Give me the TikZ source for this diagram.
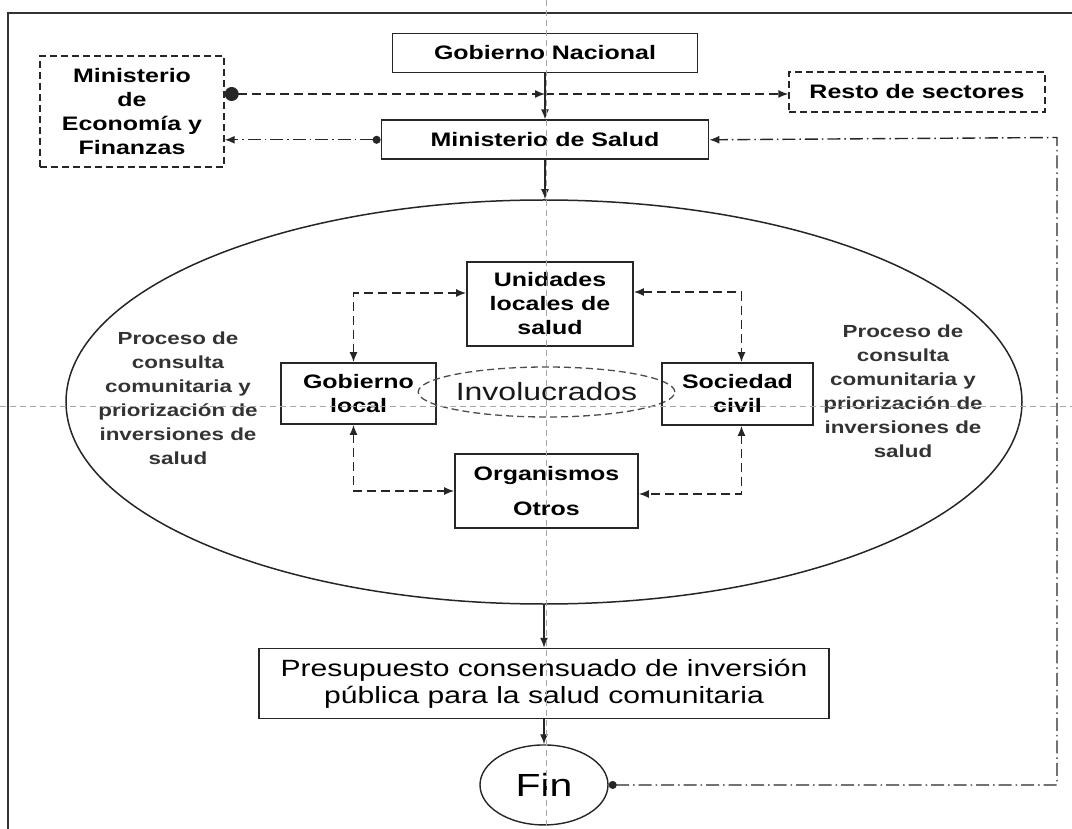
\documentclass[tikz,border=0pt]{standalone}
\usepackage{fontspec}
\setmainfont[FakeStretch=1.28]{Liberation Sans}
\usetikzlibrary{shapes.geometric,arrows.meta,positioning}

\begin{document}
\begin{tikzpicture}[x=1pt, y=-1pt, >={Latex[length=10pt,width=8pt]}]
		\tikzstyle{box}=[rectangle, draw=black!85, line width=1.8pt, align=center, inner sep=0pt, font=\fontsize{19.5}{24}\selectfont\bfseries]
		\tikzstyle{dbox}=[box, line width=1.4pt, dash pattern=on 7pt off 4pt]
		\tikzstyle{note}=[align=center, text=black!80, font=\fontsize{17.5}{24}\selectfont\bfseries]
		\tikzstyle{connect}=[line width=1.4pt, draw=black!85, ->]
		\tikzstyle{dsh}=[connect, dash pattern=on 9pt off 5pt]
		\tikzstyle{dshdot}=[connect, dash pattern=on 13pt off 4pt on 1.5pt off 4pt]
		\tikzstyle{guide}=[black!35, line width=0.8pt, dash pattern=on 6pt off 4pt]
		\useasboundingbox (0,0) rectangle (1072,829);
		\draw[line width=1.8pt, black!80] (1072,13) -- (8,13) -- (8,829);
		
		\node[box, minimum width=305pt, minimum height=39pt] (gn) at (545,53) {Gobierno Nacional};
		\node[box, minimum width=327pt, minimum height=39pt] (ms) [below=46pt of gn] {Ministerio de Salud};
		\node[dbox, minimum width=184pt, minimum height=111pt] (mef) at (132,111.5) {Ministerio\\de\\Economía y\\Finanzas};
		\node[dbox, minimum width=256pt, minimum height=40pt] (rs) at (917,92) {Resto de sectores};
		
		\node[ellipse, draw=black!85, line width=1.5pt, minimum width=956pt, minimum height=404pt] (el) at (544,402) {};
		\node[box, minimum width=166pt, minimum height=84pt] (uls) at (550,304) {Unidades\\locales de\\salud};
		\node[box, minimum width=155pt, minimum height=61pt] (gl) at (358.5,393.5) {Gobierno\\local};
		\node[ellipse, draw=black!70, line width=1.3pt, dash pattern=on 7pt off 4pt, inner sep=0pt, minimum width=201pt, minimum height=50pt, text=black!90, font=\fontsize{25}{30}\selectfont] (inv) at (546.5,392) {Involucrados};
		\node[box, minimum width=151pt, minimum height=62pt] (sc) at (737.5,394) {Sociedad\\civil};
		\node[box, minimum width=183pt, minimum height=74pt] (oo) at (546.5,491) {Organismos\\[11pt]Otros};
		\node[note] (pl) at (178,398) {Proceso de\\consulta\\comunitaria y\\priorización de\\inversiones de\\salud};
		\node[note] (pr) at (903,391) {Proceso de\\consulta\\comunitaria y\\priorización de\\inversiones de\\salud};
		
		\node[box, line width=1.5pt, minimum width=570pt, minimum height=70pt, font=\fontsize{23.5}{27}\selectfont] (pp) [below=43pt of el] {Presupuesto consensuado de inversión\\pública para la salud comunitaria};
		\node[ellipse, draw=black!85, line width=1.4pt, inner sep=0pt, minimum width=128pt, minimum height=80pt, font=\fontsize{32}{36}\selectfont] (fin) [below=25pt of pp] {Fin};
		
		\coordinate (j) at (545,94);
		\coordinate (c) at (1057,137.5);
		
		\draw[connect] (gn.south) -- (gn.south |- ms.north);
		\draw[dsh, {Circle[length=14pt]}->] (mef.east |- j) -- (j);
		\draw[dsh] (j) -- (j -| rs.west);
		\draw[dshdot, {Circle[length=8pt]}->] (ms.west) -- (ms.west -| mef.east);
		\draw[connect] (ms.south) -- (ms.south |- el.north);
		\draw[connect] (el.south) -- (el.south |- pp.north);
		\draw[connect] (pp.south) -- (pp.south |- fin.north);
		\draw[dshdot, {Circle[length=8pt]}->] (fin.east) -| (c) -- (ms.east);
		
		\draw[dsh, <->] ([xshift=-5pt]gl.north) |- ([yshift=11pt]uls.west);
		\draw[dsh, <->] ([yshift=12pt]uls.east) -| ([xshift=4pt]sc.north);
		\draw[dsh, <->] ([xshift=-5pt]gl.south) |- (oo.west);
		\draw[dsh, <->] ([xshift=4pt]sc.south) |- ([yshift=-3pt]oo.east);
		
		\draw[guide] (546,0) -- (546,829);
		\draw[guide] (0,406) -- (1072,406);
\end{tikzpicture}
\end{document}
